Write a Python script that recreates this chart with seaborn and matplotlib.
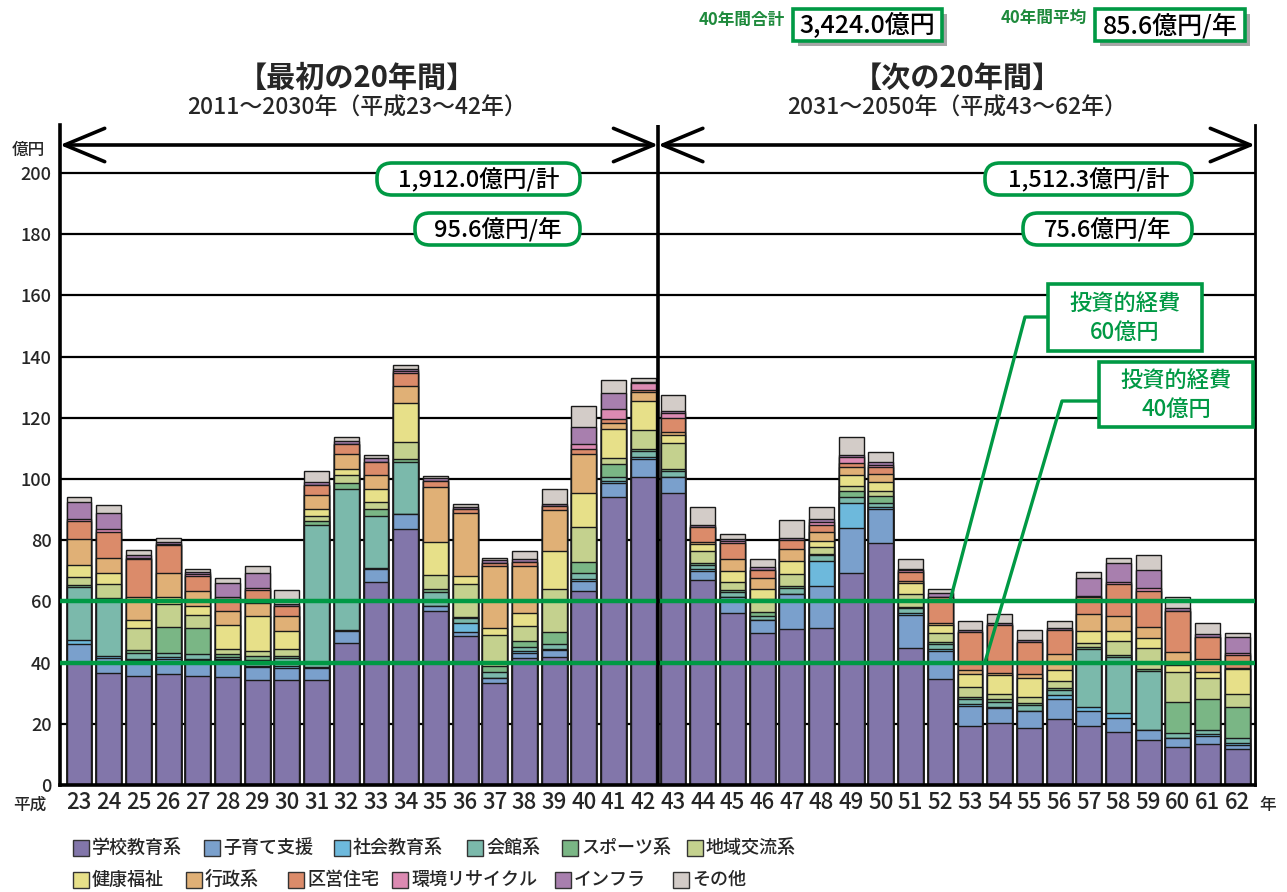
import numpy as np
import pandas as pd
import matplotlib
matplotlib.use("Agg")
import matplotlib.pyplot as plt
from matplotlib.patches import FancyBboxPatch, Rectangle
import seaborn as sns

# ---------------- data ----------------
years = [str(y) for y in range(23, 63)]
categories = ["学校教育系", "子育て支援", "社会教育系", "会館系", "スポーツ系", "地域交流系",
              "健康福祉", "行政系", "区営住宅", "環境リサイクル", "インフラ", "その他"]
colors = ["#8276aa", "#7aa0cc", "#6db9dc", "#7bb9ab", "#7ab685", "#c4d18e",
          "#e7e089", "#e0b076", "#db8b6a", "#dc8ab2", "#a87fae", "#d3ccc8"]

school   = [40.0, 36.5, 35.6, 36.2, 35.6, 35.2, 34.3, 34.3, 34.3, 46.5, 66.5, 83.6, 57.0, 48.7, 33.2, 41.6, 41.95, 63.4, 94.0, 100.6,
            95.3, 67.0, 56.1, 49.6, 50.9, 51.4, 69.4, 79.0, 44.7, 34.5, 19.3, 20.4, 18.5, 21.6, 19.4, 17.2, 14.7, 12.3, 13.4, 11.7]
childcare = [6.1, 4.9, 5.3, 5.1, 5.3, 5.7, 4.15, 3.8, 3.8, 3.9, 4.0, 5.0, 1.5, 1.4, 1.9, 1.7, 2.15, 3.4, 4.8, 6.0,
             5.5, 3.05, 5.2, 4.3, 11.5, 13.6, 14.5, 11.2, 10.9, 9.4, 6.5, 4.7, 5.8, 6.4, 4.8, 4.8, 3.3, 3.2, 2.6, 1.4]
social   = [1.3, 0.6, 0.4, 0.4, 0.3, 0.3, 0.45, 0.8, 0.6, 0.2, 0.3, 0.0, 0.0, 3.0, 0.0, 0.5, 0.4, 0.5, 0.6, 0.5,
            0.0, 0.45, 0.0, 0.0, 0.0, 8.2, 8.4, 0.5, 0.5, 0.4, 0.7, 0.3, 0.0, 1.4, 1.4, 1.4, 0.0, 0.0, 0.7, 0.7]
hall     = [17.4, 18.7, 1.7, 1.3, 1.5, 0.5, 2.1, 2.5, 46.3, 46.0, 17.1, 17.1, 4.7, 1.6, 1.9, 1.4, 1.5, 1.9, 1.4, 2.1,
            1.8, 1.5, 1.9, 1.3, 2.1, 2.0, 1.7, 1.3, 1.6, 1.8, 1.5, 1.8, 1.8, 1.65, 18.7, 18.5, 19.3, 1.6, 1.3, 1.5]
sports   = [0.6, 0.3, 1.1, 8.75, 8.5, 1.0, 1.0, 0.8, 1.3, 2.0, 2.2, 0.8, 0.8, 0.3, 1.9, 1.9, 4.0, 3.8, 4.0, 0.5,
            0.7, 0.7, 0.5, 1.2, 0.5, 0.3, 2.2, 2.4, 0.6, 0.7, 0.9, 0.8, 0.8, 0.75, 0.7, 0.6, 0.5, 9.9, 10.0, 10.1]
community = [2.7, 4.6, 7.1, 7.45, 4.4, 1.6, 1.9, 2.1, 1.6, 2.7, 2.5, 5.7, 4.6, 10.7, 10.1, 4.7, 13.95, 11.2, 2.2, 6.3,
             8.4, 3.8, 2.8, 4.3, 4.0, 2.2, 1.5, 1.7, 4.1, 3.0, 3.0, 1.7, 2.0, 2.2, 1.3, 4.6, 7.1, 10.0, 6.9, 4.3]
welfare  = [3.8, 3.8, 2.7, 2.35, 3.0, 7.9, 11.3, 6.1, 2.2, 2.0, 4.0, 12.5, 10.8, 2.6, 2.4, 4.35, 12.45, 11.1, 9.2, 9.6,
            2.7, 2.2, 3.4, 3.25, 4.3, 2.2, 3.6, 3.0, 3.7, 2.5, 4.4, 6.3, 6.2, 3.6, 4.1, 3.3, 3.0, 2.2, 2.1, 8.1]
admin    = [8.4, 4.9, 7.4, 7.85, 4.8, 4.7, 4.2, 4.8, 4.7, 4.9, 4.7, 5.7, 18.1, 20.7, 20.2, 15.5, 13.5, 12.9, 2.0, 2.7,
            0.9, 0.8, 4.0, 3.65, 3.7, 2.9, 2.7, 2.5, 0.7, 0.8, 1.3, 0.7, 1.1, 5.1, 5.5, 4.8, 3.85, 4.4, 4.1, 0.3]
housing  = [6.0, 8.5, 12.5, 9.0, 4.9, 3.8, 4.3, 3.4, 3.2, 3.1, 4.4, 4.1, 2.0, 1.3, 1.1, 1.3, 1.3, 1.5, 1.3, 0.8,
            4.5, 4.7, 5.3, 2.7, 3.1, 2.2, 1.3, 2.2, 2.9, 8.4, 12.5, 15.6, 10.6, 8.0, 5.6, 10.5, 11.75, 13.4, 7.2, 4.4]
recycle  = [0.7, 1.0, 0.3, 0.3, 0.7, 0.6, 0.6, 0.0, 0.0, 0.0, 0.0, 0.9, 0.0, 0.0, 0.0, 0.0, 0.0, 1.75, 3.4, 2.2,
            1.9, 0.0, 0.7, 0.0, 0.0, 1.1, 2.0, 0.8, 0.4, 0.0, 0.0, 0.0, 0.0, 0.0, 0.4, 0.8, 0.8, 0.0, 0.0, 0.5]
infra    = [5.5, 5.0, 1.0, 0.8, 0.5, 4.6, 5.1, 0.5, 0.9, 1.0, 1.1, 0.6, 0.7, 0.6, 0.8, 0.9, 0.6, 5.45, 5.3, 0.5,
            0.6, 0.9, 0.5, 0.8, 0.5, 0.7, 0.7, 0.8, 0.4, 1.4, 0.6, 0.5, 0.6, 0.7, 5.9, 6.2, 6.0, 0.7, 1.1, 5.5]
other    = [1.5, 2.7, 1.8, 1.1, 1.2, 1.85, 2.2, 4.6, 3.7, 1.5, 1.1, 1.3, 0.8, 0.9, 0.7, 2.6, 4.8, 7.0, 4.2, 1.1,
            5.2, 5.65, 1.6, 2.7, 6.0, 4.2, 5.8, 3.3, 3.25, 1.1, 2.9, 3.1, 3.3, 2.2, 1.7, 1.6, 4.9, 3.8, 3.7, 1.1]

series = [school, childcare, social, hall, sports, community, welfare, admin, housing, recycle, infra, other]

yticks = list(range(0, 201, 20))
first_total, first_avg = "1,912.0億円/計", "95.6億円/年"
second_total, second_avg = "1,512.3億円/計", "75.6億円/年"
grand_total, grand_avg = "3,424.0億円", "85.6億円/年"
invest_levels = [60, 40]

# ---------------- style ----------------
sns.set_theme(style="white")
plt.rcParams["font.family"] = ["Noto Sans CJK JP", "DejaVu Sans"]
MED = "medium"

W, H = 1287, 892
fig = plt.figure(figsize=(W / 100, H / 100), dpi=100)
fig.patch.set_facecolor("white")

YMAX = (785 - 125) / 3.06
ax = fig.add_axes([60 / W, (H - 785) / H, 1195 / W, 660 / H])

df = pd.DataFrame({"year": np.repeat(years, len(categories)),
                   "category": categories * len(years),
                   "value": np.array(series).T.ravel()})
wide = df.pivot(index="year", columns="category", values="value").loc[years, categories]
cum = wide.cumsum(axis=1)

# draw cumulative stacks from top to bottom so lower segments overlay higher
for cat, col in zip(categories[::-1], colors[::-1]):
    sns.barplot(x=years, y=cum[cat].values, order=years, color=col, saturation=1,
                width=0.84, edgecolor="#1a1a1a", linewidth=1.0, errorbar=None, ax=ax, zorder=2)

XL = (60 - 79) / 29.7
XR = (1255 - 79) / 29.7
ax.set_xlim(XL, XR)
ax.set_ylim(0, YMAX)

for yv in yticks[1:]:
    ax.axhline(yv, color="black", lw=1.6, zorder=1)
for lv in invest_levels:
    ax.axhline(lv, color="#009944", lw=3.2, zorder=4)

ax.axvline(19.5, color="black", lw=2.6, zorder=5)

arrow_y = (785 - 145) / 3.06
for a, b in [(XL, 19.5), (19.5, XR)]:
    ax.annotate("", xy=(a, arrow_y), xytext=(b, arrow_y),
                arrowprops=dict(arrowstyle="<->,head_length=1.2,head_width=0.5",
                                lw=2.6, color="black", shrinkA=0, shrinkB=0,
                                mutation_scale=24), zorder=6)

ax.set_yticks(yticks)
ax.set_yticklabels([str(t) for t in yticks], fontsize=13, fontweight=MED)
ax.set_xticks(range(len(years)))
ax.set_xticklabels(years, fontsize=16, fontweight=MED)
ax.tick_params(axis="both", length=0)
ax.tick_params(axis="y", pad=6)
ax.tick_params(axis="x", pad=4)
ax.set_xlabel("")
ax.set_ylabel("")
for s in ["left", "bottom"]:
    ax.spines[s].set_linewidth(2.6)
    ax.spines[s].set_color("black")
ax.spines["right"].set_linewidth(2.0)
ax.spines["right"].set_color("black")
ax.spines["top"].set_visible(False)
ax.grid(False)

# ---------------- overlay (pixel coordinates) ----------------
ov = fig.add_axes([0, 0, 1, 1], zorder=10)
ov.set_xlim(0, W)
ov.set_ylim(H, 0)
ov.axis("off")
ov.patch.set_alpha(0)

GREEN = "#009944"

def rbox(x0, y0, x1, y1, text, fs=17):
    ov.add_patch(FancyBboxPatch((x0, y0), x1 - x0, y1 - y0,
                                boxstyle="round,pad=0,rounding_size=15",
                                fc="white", ec=GREEN, lw=2.6, zorder=3))
    ov.text((x0 + x1) / 2, (y0 + y1) / 2 + 1, text, ha="center", va="center",
            fontsize=fs, color="black", fontweight=MED, zorder=4)

rbox(377, 163, 580, 195, first_total)
rbox(415, 213, 580, 245, first_avg)
rbox(985, 163, 1192, 195, second_total)
rbox(1023, 213, 1192, 245, second_avg)

def sbox(x0, y0, x1, y1, text, fs=18):
    ov.add_patch(Rectangle((x0 + 5, y0 + 5), x1 - x0, y1 - y0, fc="#a6a6a6", ec="none", zorder=2))
    ov.add_patch(Rectangle((x0, y0), x1 - x0, y1 - y0, fc="white", ec=GREEN, lw=2.6, zorder=3))
    ov.text((x0 + x1) / 2, (y0 + y1) / 2 + 1, text, ha="center", va="center",
            fontsize=fs, color="black", fontweight=MED, zorder=4)

sbox(793, 9, 942, 41, grand_total)
sbox(1095, 9, 1245, 41, grand_avg)
ov.text(785, 20, "40年間合計", ha="right", va="center", fontsize=12, color="#1e8a3c", fontweight="bold")
ov.text(1087, 18, "40年間平均", ha="right", va="center", fontsize=12, color="#1e8a3c", fontweight="bold")

ov.text(357, 78, "【最初の20年間】", ha="center", va="center", fontsize=21, fontweight="bold")
ov.text(357, 108, "2011〜2030年（平成23〜42年）", ha="center", va="center", fontsize=16.5, fontweight=MED)
ov.text(957, 78, "【次の20年間】", ha="center", va="center", fontsize=21, fontweight="bold")
ov.text(957, 108, "2031〜2050年（平成43〜62年）", ha="center", va="center", fontsize=16.5, fontweight=MED)

ov.text(28, 150, "億円", ha="center", va="center", fontsize=12, fontweight=MED)
ov.text(30, 805, "平成", ha="center", va="center", fontsize=12, fontweight=MED)
ov.text(1268, 805, "年", ha="center", va="center", fontsize=12, fontweight=MED)

# investment boxes
def ibox(x0, y0, x1, y1, l1, l2, lead):
    ov.plot([p[0] for p in lead], [p[1] for p in lead], color=GREEN, lw=2.4, zorder=2)
    ov.add_patch(Rectangle((x0, y0), x1 - x0, y1 - y0, fc="white", ec=GREEN, lw=2.6, zorder=3))
    cx = (x0 + x1) / 2
    ov.text(cx, y0 + (y1 - y0) * 0.3, l1, ha="center", va="center", fontsize=16, color=GREEN,
            fontweight=MED, zorder=4)
    ov.text(cx, y0 + (y1 - y0) * 0.73, l2, ha="center", va="center", fontsize=16, color=GREEN,
            fontweight=MED, zorder=4)

ibox(1048, 284, 1202, 351, "投資的経費", "60億円", [(1048, 317), (1025, 317), (950, 601)])
ibox(1099, 362, 1253, 427, "投資的経費", "40億円", [(1099, 401), (1062, 401), (985, 662)])

# legend
leg_rows = [
    [(73, 0), (204, 1), (334, 2), (467, 3), (562, 4), (687, 5)],
    [(73, 6), (186, 7), (288, 8), (392, 9), (555, 10), (673, 11)],
]
for ry, row in zip([848, 880], leg_rows):
    for lx, k in row:
        ov.add_patch(Rectangle((lx, ry - 8), 16, 16, fc=colors[k], ec="#333333", lw=1.0))
        ov.text(lx + 19, ry, categories[k], ha="left", va="center", fontsize=13, fontweight=MED)

fig.savefig("out.png", dpi=100, facecolor="white")
